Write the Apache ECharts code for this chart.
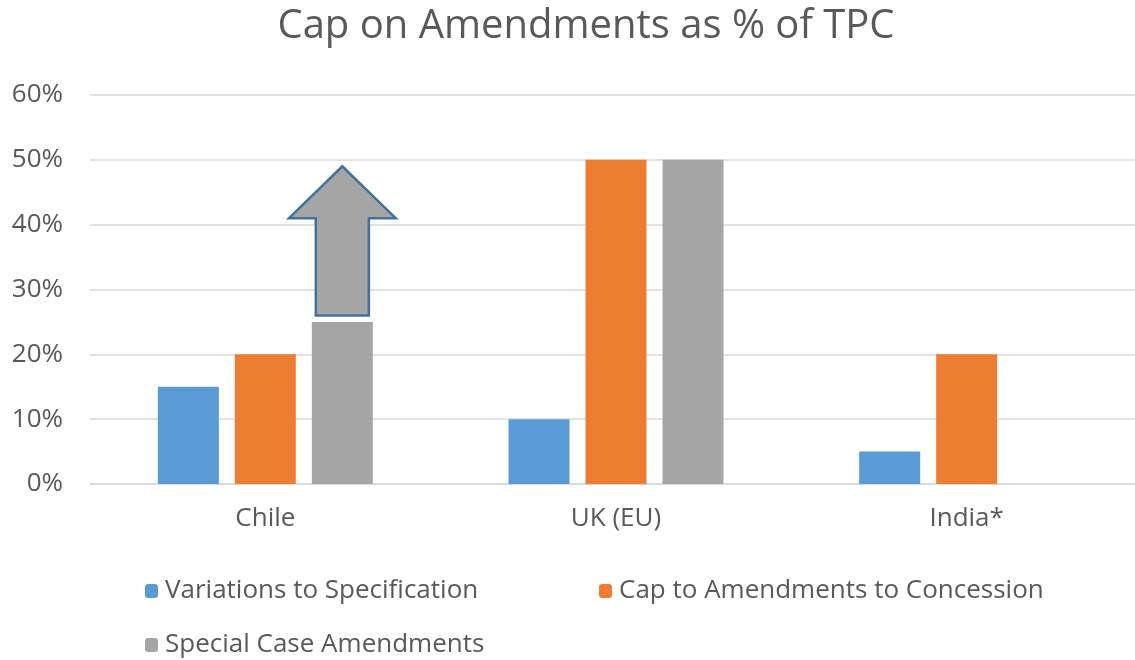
<!DOCTYPE html>
<html><head><meta charset="utf-8">
<script src="https://cdn.jsdelivr.net/npm/echarts@6/dist/echarts.min.js"></script>
<style>html,body{margin:0;padding:0;background:#fff}#c{width:1135px;height:660px}</style>
</head><body><div id="c"></div>
<script>
const categories = ['Chile', 'UK (EU)', 'India*'];
const seriesNames = ['Variations to Specification', 'Cap to Amendments to Concession', 'Special Case Amendments'];
const variations = [15, 10, 5];
const capAmendments = [20, 50, 20];
const specialCase = [25, 50, null];
const yTicks = [0, 10, 20, 30, 40, 50, 60];
// arrow annotation above Chile special-case bar: [category, base, neck, tip] in %
const arrowData = [[0, 26, 41, 49]];

const colors = ['#5B9BD5', '#ED7D31', '#A5A5A5'];
const FONT = '"Open Sans"';
const BAR_W = 61, BAR_GAP = 16;

const chart = echarts.init(document.getElementById('c'));
function legendFor(i, left, top) {
  return {
    data: [seriesNames[i]], left: left, top: top, orient: 'horizontal',
    itemWidth: 13, itemHeight: 14, itemGap: 8,
    textStyle: { color: '#595959', fontSize: 26, fontFamily: FONT, padding: [0, 0, 0, 2] },
    selectedMode: false
  };
}
chart.setOption({
  animation: false,
  color: colors,
  title: {
    text: 'Cap on Amendments as % of TPC', left: 581, top: 2, textAlign: 'center',
    textStyle: { color: '#595959', fontSize: 40, fontWeight: 'normal', fontFamily: FONT }
  },
  legend: [legendFor(0, 140, 573), legendFor(1, 594, 573), legendFor(2, 140, 627)],
  grid: { left: 90, width: 1052, top: 95, bottom: 176, containLabel: false, outerBoundsMode: 'none' },
  xAxis: {
    type: 'category', data: categories,
    axisLine: { show: true, lineStyle: { color: '#D9D9D9', width: 1.5 } },
    axisTick: { show: false },
    axisLabel: { color: '#595959', fontSize: 26, fontFamily: FONT, margin: 22 }
  },
  yAxis: {
    type: 'value', min: 0, max: 60, interval: 10,
    axisLabel: { formatter: '{value}%', color: '#595959', fontSize: 26, fontFamily: FONT, margin: 27 },
    splitLine: { lineStyle: { color: '#D9D9D9', width: 1.5 } },
    axisLine: { show: false }, axisTick: { show: false }
  },
  series: [
    { name: seriesNames[0], type: 'bar', data: variations, barWidth: BAR_W, barGap: (BAR_GAP / BAR_W * 100) + '%' },
    { name: seriesNames[1], type: 'bar', data: capAmendments, barWidth: BAR_W, barGap: (BAR_GAP / BAR_W * 100) + '%' },
    { name: seriesNames[2], type: 'bar', data: specialCase, barWidth: BAR_W, barGap: (BAR_GAP / BAR_W * 100) + '%' },
    {
      name: 'arrow', type: 'custom', data: arrowData, z: 5,
      renderItem: function (params, api) {
        const cat = api.value(0);
        const base = api.coord([cat, api.value(1)]);
        const neck = api.coord([cat, api.value(2)]);
        const tip = api.coord([cat, api.value(3)]);
        const cx = base[0] + BAR_W + BAR_GAP;
        const sw = BAR_W * 0.435, hw = BAR_W * 0.875;
        return {
          type: 'polygon',
          shape: { points: [
            [cx - sw, base[1]], [cx + sw, base[1]], [cx + sw, neck[1]], [cx + hw, neck[1]],
            [cx, tip[1]], [cx - hw, neck[1]], [cx - sw, neck[1]]
          ] },
          style: { fill: '#A5A5A5', stroke: '#41719C', lineWidth: 2.5 }
        };
      }
    }
  ]
});
</script></body></html>
